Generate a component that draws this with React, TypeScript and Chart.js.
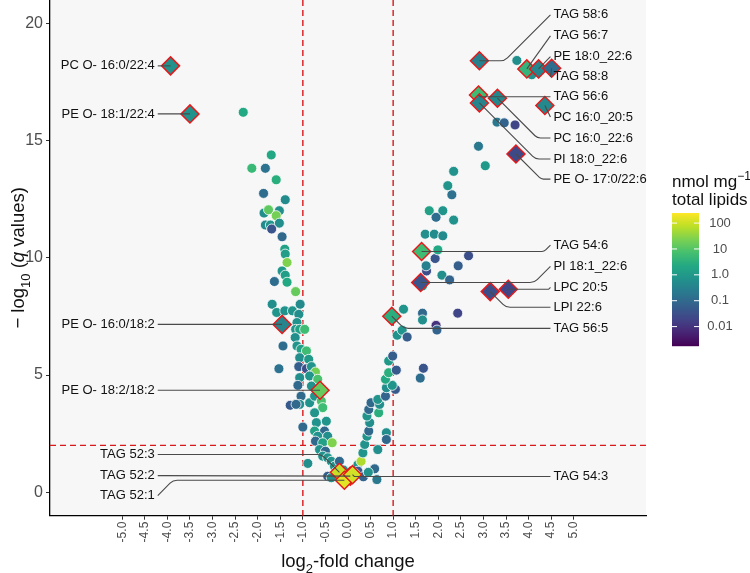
import React, { useEffect, useRef } from 'react';
import { Chart, registerables } from 'chart.js';

Chart.register(...registerables);

const FONT = '"Liberation Sans", Arial, Helvetica, sans-serif';

// ---- axes / ticks ----
const xTickValues = [-5, -4.5, -4, -3.5, -3, -2.5, -2, -1.5, -1, -0.5, 0, 0.5, 1, 1.5, 2, 2.5, 3, 3.5, 4, 4.5, 5];
const yTickValues = [0, 5, 10, 15, 20];
const legendValues = [100, 10, 1, 0.1, 0.01];
const legendLabels = ['100', '10', '1.0', '0.1', '0.01'];
const foldThreshold = 1;
const qThreshold = 2;

// ---- all lipids (circles) ----
const lipidFC = [
  -2.32, -1.70, -2.13, -1.83, -1.59, -1.87, -1.39, -1.86, -1.76, -1.52,
  -1.59, -1.83, -1.72, -1.52, -1.69, -1.46, -1.40, -1.39, -1.35, -1.46,
  -1.39, -1.63, -1.35, -1.16, -1.68, -1.06, -1.58, -1.40, -1.23, -1.09,
  -1.13, -1.16, -1.07, -0.96, -1.17, -1.44, -1.13, -1.04, -0.92, -1.07,
  -0.87, -1.53, -1.09, -0.92, -0.81, -0.72, -1.07, -0.85, -0.67, -1.11,
  -0.81, -1.04, -1.28, -1.07, -1.15, -0.85, -0.74, -0.59, -0.56, -0.74,
  -1.00, -0.70, -0.48, -0.74, -0.52, -0.67, -0.45, -0.72, -0.56, -0.35,
  -0.63, -0.50, -0.56, -0.45, -0.89, -0.37, -0.30, -0.19, -0.45, -0.37,
  -0.25, -0.10,
  0.22, 0.29, 0.33, 0.37, 0.42, 0.46, 0.48, 0.42, 0.46, 0.51,
  0.66, 0.59, 0.64, 0.68, 0.70, 0.66, 0.85, 0.85, 0.83, 1.05,
  0.22, 0.34, 0.85, 0.98, 0.83, 0.90, 1.07, 0.90, 0.99, 1.09,
  1.20, 1.31, 1.23, 1.65, 1.65, 2.43, 1.95, 1.97, 1.67, 1.60,
  1.65, 1.74, 1.73, 2.08, 2.25, 2.44, 2.67, 1.93, 1.99, 1.71,
  1.91, 2.10, 1.80, 2.10, 1.95, 2.34, 2.30, 2.21, 2.34, 3.04,
  2.89, 3.30, 3.46, 3.70, 3.74, 4.07, 0.15, 0.45,
];
const lipidQ = [
  16.21, 14.39, 13.82, 13.82, 13.33, 12.75, 12.48, 11.91, 12.05, 12.01,
  11.80, 11.40, 11.40, 11.48, 11.23, 10.90, 10.37, 10.16, 9.80, 9.44,
  9.26, 8.99, 8.96, 8.56, 8.02, 8.02, 7.67, 7.74, 7.74, 7.59,
  7.24, 6.95, 6.95, 6.95, 6.60, 6.24, 6.24, 6.10, 6.03, 5.74,
  5.67, 5.27, 5.36, 5.27, 5.36, 5.13, 4.89, 4.96, 4.82, 4.56,
  4.53, 4.10, 3.71, 3.75, 3.75, 3.82, 4.10, 3.89, 3.61, 3.39,
  2.78, 2.97, 3.03, 2.61, 2.61, 2.39, 2.39, 2.18, 2.11, 2.11,
  1.82, 1.75, 1.54, 1.47, 1.23, 1.32, 1.11, 1.32, 0.68, 0.62,
  0.90, 0.95,
  1.18, 1.32, 1.68, 2.04, 2.39, 2.61, 2.97, 3.25, 3.53, 3.82,
  1.82, 1.00, 0.54, 3.39, 3.75, 3.96, 2.54, 2.25, 4.10, 4.39,
  0.90, 0.66, 4.46, 4.56, 4.82, 5.10, 5.21, 5.60, 5.81, 6.70,
  6.91, 6.62, 7.81, 7.64, 7.35, 7.64, 7.12, 6.92, 5.29, 4.87,
  8.80, 9.44, 9.66, 9.26, 9.06, 9.66, 10.09, 9.97, 10.34, 11.01,
  11.01, 10.94, 12.01, 12.01, 11.73, 11.61, 12.69, 13.08, 13.69, 13.93,
  14.76, 15.79, 15.76, 15.67, 18.42, 17.81, 0.80, 0.85,
];
const lipidConc = [
  2.2, 2.2, 5, 0.15, 3, 0.12, 0.5, 0.6, 13, 0.6,
  20, 0.5, 0.8, 0.6, 0.04, 0.1, 1.5, 1.2, 25, 0.9,
  1.2, 0.12, 2.2, 15, 0.6, 0.5, 0.8, 0.7, 0.8, 0.6,
  0.7, 0.8, 1.5, 6, 0.6, 0.12, 0.8, 1.5, 6, 0.6,
  1, 0.15, 0.06, 0.03, 0.8, 20, 0.6, 0.8, 8, 0.1,
  0.7, 0.1, 0.05, 0.6, 0.1, 0.7, 0.8, 8, 6, 0.8,
  0.1, 0.7, 0.8, 1.5, 0.1, 0.7, 0.6, 0.1, 1.5, 25,
  0.7, 0.1, 0.7, 0.8, 0.6, 0.7, 0.8, 0.1, 0.06, 0.7,
  0.7, 0.8,
  0.8, 60, 0.8, 0.7, 0.8, 0.1, 0.6, 0.8, 0.1, 0.1,
  0.6, 0.1, 0.2, 3, 0.6, 0.8, 0.6, 0.1, 0.08, 0.05,
  0.05, 0.08, 0.6, 0.8, 2.2, 3, 0.05, 1, 0.06, 0.7,
  0.8, 0.06, 0.8, 0.1, 0.6, 0.02, 0.01, 0.08, 0.04, 0.12,
  1, 0.03, 0.3, 0.6, 0.08, 0.06, 0.03, 0.04, 2.2, 0.6,
  0.5, 0.5, 1.5, 0.8, 0.12, 0.7, 0.15, 0.8, 0.7, 1,
  0.2, 0.2, 0.08, 0.02, 0.6, 0.7, 0.6, 0.7,
];

// ---- highlighted lipids (diamonds + labels) ----
const hlNames = [
  'PC O- 16:0/22:4', 'PE O- 18:1/22:4', 'PE O- 16:0/18:2', 'PE O- 18:2/18:2',
  'TAG 52:3', 'TAG 52:2', 'TAG 52:1', 'TAG 54:3',
  'TAG 58:6', 'TAG 56:7', 'PE 18:0_22:6', 'TAG 58:8', 'TAG 56:6',
  'PC 16:0_20:5', 'PC 16:0_22:6', 'PI 18:0_22:6', 'PE O- 17:0/22:6',
  'TAG 54:6', 'PI 18:1_22:6', 'LPC 20:5', 'LPI 22:6', 'TAG 56:5',
];
const hlFC = [-3.93, -3.50, -1.46, -0.62, -0.19, 0.05, -0.08, 0.10, 2.91, 3.96, 4.22, 4.51, 2.89, 4.36, 3.31, 2.91, 3.72, 1.63, 1.61, 3.55, 3.15, 0.97];
const hlQ = [18.19, 16.14, 7.16, 4.35, 0.85, 0.69, 0.51, 0.75, 18.41, 18.06, 18.06, 18.09, 16.95, 16.50, 16.81, 16.61, 14.43, 10.27, 8.95, 8.66, 8.56, 7.51];
const hlConc = [0.7, 0.7, 0.35, 15, 90, 110, 150, 110, 0.3, 4, 0.4, 0.12, 6, 0.45, 0.45, 0.35, 0.025, 6, 0.04, 0.02, 0.03, 3];
const hlLabelQ = [18.19, 16.14, 7.16, 4.35, 1.61, 0.71, -0.14, 0.67, 20.37, 19.47, 18.58, 17.72, 16.87, 16.01, 15.11, 14.22, 13.36, 10.54, 9.64, 8.74, 7.89, 6.99];
const hlSide = ['L', 'L', 'L', 'L', 'L', 'L', 'L', 'R', 'R', 'R', 'R', 'R', 'R', 'R', 'R', 'R', 'R', 'R', 'R', 'R', 'R', 'R'];
const labelFCLeft = -4.28;
const labelFCRight = 4.55;

// ---- colour scale ----
const VIRIDIS = ['#440154', '#482475', '#414487', '#355f8d', '#2a788e', '#21918c', '#22a884', '#44bf70', '#7ad151', '#bddf26', '#fde725'];
const LOG_MIN = -2.75;
const LOG_MAX = 2.39;

function hexToRgb(h: string) {
  return [parseInt(h.slice(1, 3), 16), parseInt(h.slice(3, 5), 16), parseInt(h.slice(5, 7), 16)];
}
function viridis(t: number) {
  const tt = Math.max(0, Math.min(1, t));
  const s = tt * 10;
  const i = Math.min(9, Math.floor(s));
  const f = s - i;
  const a = hexToRgb(VIRIDIS[i]);
  const b = hexToRgb(VIRIDIS[i + 1]);
  const c = a.map((v, k) => Math.round(v + (b[k] - v) * f));
  return `rgb(${c[0]},${c[1]},${c[2]})`;
}
function concColor(c: number) {
  return viridis((Math.log10(c) - LOG_MIN) / (LOG_MAX - LOG_MIN));
}

type Seg = { t: string; italic?: boolean; sub?: boolean; sup?: boolean };
function drawRich(ctx: CanvasRenderingContext2D, segs: Seg[], x: number, y: number, size: number, align: 'left' | 'center') {
  const fontFor = (s: Seg) => `${s.italic ? 'italic ' : ''}${s.sub || s.sup ? Math.round(size * 0.72) : size}px ${FONT}`;
  let total = 0;
  const widths = segs.map((s) => {
    ctx.font = fontFor(s);
    const w = ctx.measureText(s.t).width;
    total += w;
    return w;
  });
  let cx = align === 'center' ? x - total / 2 : x;
  ctx.textAlign = 'left';
  ctx.textBaseline = 'alphabetic';
  segs.forEach((s, i) => {
    ctx.font = fontFor(s);
    const dy = s.sub ? size * 0.3 : s.sup ? -size * 0.42 : 0;
    ctx.fillText(s.t, cx, y + dy);
    cx += widths[i];
  });
}

const volcanoPlugin = {
  id: 'volcano',
  beforeDraw(chart: any) {
    const { ctx, chartArea: a } = chart;
    ctx.save();
    ctx.fillStyle = '#ffffff';
    ctx.fillRect(0, 0, chart.width, chart.height);
    ctx.fillStyle = '#f7f7f7';
    ctx.fillRect(a.left, a.top, a.right - a.left, a.bottom - a.top);
    ctx.restore();
  },
  beforeDatasetsDraw(chart: any) {
    const { ctx, chartArea: a, scales } = chart;
    const x = scales.x;
    const y = scales.y;
    ctx.save();
    ctx.strokeStyle = '#d7191c';
    ctx.lineWidth = 1.4;
    ctx.setLineDash([6, 4]);
    for (const v of [-foldThreshold, foldThreshold]) {
      const px = x.getPixelForValue(v);
      ctx.beginPath();
      ctx.moveTo(px, a.top);
      ctx.lineTo(px, a.bottom);
      ctx.stroke();
    }
    const py = y.getPixelForValue(qThreshold);
    ctx.beginPath();
    ctx.moveTo(a.left, py);
    ctx.lineTo(a.right, py);
    ctx.stroke();
    ctx.restore();
  },
  afterDatasetsDraw(chart: any) {
    const { ctx, chartArea: a, scales } = chart;
    const x = scales.x;
    const y = scales.y;
    ctx.save();
    // leader lines
    ctx.strokeStyle = '#4a4a4a';
    ctx.lineWidth = 1.1;
    const lxL = x.getPixelForValue(labelFCLeft);
    const lxR = x.getPixelForValue(labelFCRight);
    hlNames.forEach((name, i) => {
      const x0 = x.getPixelForValue(hlFC[i]);
      const y0 = y.getPixelForValue(hlQ[i]);
      const ly = y.getPixelForValue(hlLabelQ[i]);
      const dy = Math.abs(ly - y0);
      let p1: number[], corner: number[], p2: number[];
      if (hlSide[i] === 'R') {
        const lx = lxR - 3;
        p1 = [x0, y0];
        p2 = [lx, ly];
        if (ly < y0 - 1) corner = [Math.max(x0, lx - dy), y0];
        else if (ly > y0 + 1) corner = [Math.min(x0 + dy, lx), ly];
        else corner = [(x0 + lx) / 2, (y0 + ly) / 2];
      } else {
        const lx = lxL + 3;
        p1 = [lx, ly];
        p2 = [x0, y0];
        if (ly < y0 - 1) corner = [Math.max(lx, x0 - dy), ly];
        else if (ly > y0 + 1) corner = [Math.min(lx + dy, x0), y0];
        else corner = [(x0 + lx) / 2, (y0 + ly) / 2];
      }
      ctx.beginPath();
      ctx.moveTo(p1[0], p1[1]);
      const d1 = Math.hypot(corner[0] - p1[0], corner[1] - p1[1]);
      const d2 = Math.hypot(corner[0] - p2[0], corner[1] - p2[1]);
      if (d1 > 0.5 && d2 > 0.5) {
        ctx.arcTo(corner[0], corner[1], p2[0], p2[1], Math.min(10, d1 * 0.6, d2 * 0.6));
      }
      ctx.lineTo(p2[0], p2[1]);
      ctx.stroke();
    });
    // label text
    ctx.fillStyle = '#111111';
    ctx.font = `13px ${FONT}`;
    ctx.textBaseline = 'middle';
    hlNames.forEach((name, i) => {
      const ly = y.getPixelForValue(hlLabelQ[i]);
      if (hlSide[i] === 'R') {
        ctx.textAlign = 'left';
        ctx.fillText(name, lxR, ly);
      } else {
        ctx.textAlign = 'right';
        ctx.fillText(name, lxL, ly);
      }
    });
    ctx.restore();

    // axis titles
    ctx.save();
    ctx.fillStyle = '#111111';
    drawRich(ctx, [{ t: 'log' }, { t: '2', sub: true }, { t: '-fold change' }], (a.left + a.right) / 2, 567, 18.5, 'center');
    ctx.translate(18, (a.top + a.bottom) / 2);
    ctx.rotate(-Math.PI / 2);
    drawRich(ctx, [{ t: '\u2212 log' }, { t: '10', sub: true }, { t: ' (' }, { t: 'q', italic: true }, { t: ' values)' }], 0, 6, 18.5, 'center');
    ctx.restore();

    // colour bar legend
    ctx.save();
    const bx = 672, bw = 27, bTop = 213, bBot = 346;
    ctx.fillStyle = '#111111';
    drawRich(ctx, [{ t: 'nmol mg' }, { t: '\u22121', sup: true }], bx, 187, 17, 'left');
    drawRich(ctx, [{ t: 'total lipids' }], bx, 205, 17, 'left');
    for (let py = bTop; py < bBot; py++) {
      const t = 1 - (py + 0.5 - bTop) / (bBot - bTop);
      ctx.fillStyle = viridis(t);
      ctx.fillRect(bx, py, bw, 1.2);
    }
    ctx.strokeStyle = '#ffffff';
    ctx.lineWidth = 1;
    ctx.fillStyle = '#4d4d4d';
    ctx.font = `13px ${FONT}`;
    ctx.textAlign = 'center';
    ctx.textBaseline = 'middle';
    legendValues.forEach((v, i) => {
      const t = (Math.log10(v) - LOG_MIN) / (LOG_MAX - LOG_MIN);
      const py = bBot - t * (bBot - bTop);
      ctx.beginPath();
      ctx.moveTo(bx, py); ctx.lineTo(bx + 5, py);
      ctx.moveTo(bx + bw - 5, py); ctx.lineTo(bx + bw, py);
      ctx.stroke();
      ctx.fillText(legendLabels[i], 720, py);
    });
    ctx.restore();
  },
};

export default function App() {
  const ref = useRef<HTMLCanvasElement | null>(null);
  useEffect(() => {
    if (!ref.current) return;
    const chart = new Chart(ref.current, {
      type: 'scatter',
      data: {
        datasets: [
          {
            label: 'highlighted',
            data: hlFC.map((v, i) => ({ x: v, y: hlQ[i] })),
            pointStyle: 'rectRot',
            pointRadius: 9,
            backgroundColor: hlConc.map(concColor),
            borderColor: '#e41a1c',
            borderWidth: 1.5,
          },
          {
            label: 'lipids',
            data: lipidFC.map((v, i) => ({ x: v, y: lipidQ[i] })),
            pointStyle: 'circle',
            pointRadius: 5,
            backgroundColor: lipidConc.map(concColor),
            borderColor: '#ffffff',
            borderWidth: 0.8,
          },
        ],
      },
      options: {
        animation: false,
        responsive: false,
        events: [],
        layout: { autoPadding: false, padding: { left: 0, right: 104, top: 0, bottom: 0 } },
        plugins: { legend: { display: false }, tooltip: { enabled: false } },
        scales: {
          x: {
            type: 'linear',
            min: -6.6,
            max: 6.6,
            afterBuildTicks: (s: any) => { s.ticks = xTickValues.map((v) => ({ value: v })); },
            afterFit: (s: any) => { s.height = 57.3; s.paddingLeft = 0; s.paddingRight = 0; },
            ticks: {
              autoSkip: false,
              maxRotation: 90,
              minRotation: 90,
              padding: 2,
              color: '#4d4d4d',
              font: { family: FONT, size: 12 },
              callback: (v: any) => Number(v).toFixed(1),
            },
            grid: { display: true, drawOnChartArea: false, drawTicks: true, tickLength: 4, color: '#333333' },
            border: { display: true, color: '#000000', width: 1.3 },
          },
          y: {
            type: 'linear',
            min: -1,
            max: 21,
            afterBuildTicks: (s: any) => { s.ticks = yTickValues.map((v) => ({ value: v })); },
            afterFit: (s: any) => { s.width = 50; s.paddingTop = 0; s.paddingBottom = 0; },
            ticks: {
              padding: 3,
              color: '#4d4d4d',
              font: { family: FONT, size: 16 },
              callback: (v: any) => String(v),
            },
            grid: { display: true, drawOnChartArea: false, drawTicks: true, tickLength: 4, color: '#333333' },
            border: { display: true, color: '#000000', width: 1.3 },
          },
        },
      },
      plugins: [volcanoPlugin],
    } as any);
    return () => chart.destroy();
  }, []);
  return (
    <div style={{ position: 'absolute', left: 0, top: 0, width: 750, height: 573 }}>
      <canvas ref={ref} width={750} height={573} style={{ width: 750, height: 573, display: 'block' }} />
    </div>
  );
}
